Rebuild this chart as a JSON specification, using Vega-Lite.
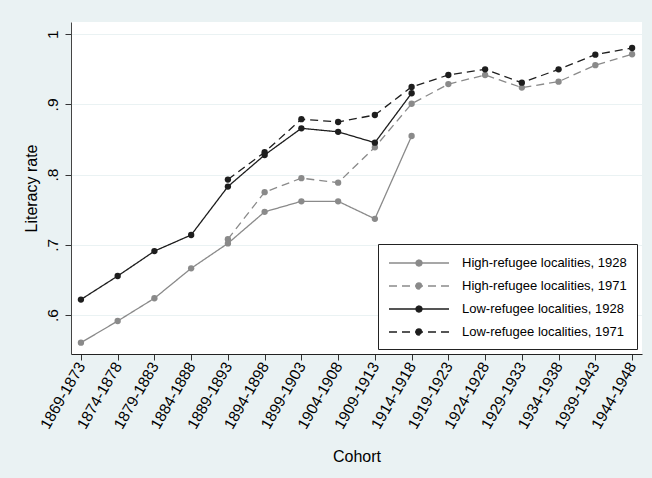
{
  "$schema": "https://vega.github.io/schema/vega-lite/v6.json",
  "width": 571,
  "height": 332,
  "autosize": {"type": "none"},
  "padding": {"left": 71, "top": 22, "right": 10, "bottom": 124},
  "background": "#eaf2f3",
  "config": {"view": {"fill": "white", "stroke": null}, "font": "Liberation Sans"},
  "data": {"values": [
    {"cohort": "1869-1873", "series": "High-refugee localities, 1928", "rate": 0.5605},
    {"cohort": "1874-1878", "series": "High-refugee localities, 1928", "rate": 0.5914},
    {"cohort": "1879-1883", "series": "High-refugee localities, 1928", "rate": 0.6238},
    {"cohort": "1884-1888", "series": "High-refugee localities, 1928", "rate": 0.6665},
    {"cohort": "1889-1893", "series": "High-refugee localities, 1928", "rate": 0.702},
    {"cohort": "1894-1898", "series": "High-refugee localities, 1928", "rate": 0.747},
    {"cohort": "1899-1903", "series": "High-refugee localities, 1928", "rate": 0.762},
    {"cohort": "1904-1908", "series": "High-refugee localities, 1928", "rate": 0.762},
    {"cohort": "1909-1913", "series": "High-refugee localities, 1928", "rate": 0.737},
    {"cohort": "1914-1918", "series": "High-refugee localities, 1928", "rate": 0.855},
    {"cohort": "1889-1893", "series": "High-refugee localities, 1971", "rate": 0.708},
    {"cohort": "1894-1898", "series": "High-refugee localities, 1971", "rate": 0.775},
    {"cohort": "1899-1903", "series": "High-refugee localities, 1971", "rate": 0.795},
    {"cohort": "1904-1908", "series": "High-refugee localities, 1971", "rate": 0.7885},
    {"cohort": "1909-1913", "series": "High-refugee localities, 1971", "rate": 0.839},
    {"cohort": "1914-1918", "series": "High-refugee localities, 1971", "rate": 0.901},
    {"cohort": "1919-1923", "series": "High-refugee localities, 1971", "rate": 0.929},
    {"cohort": "1924-1928", "series": "High-refugee localities, 1971", "rate": 0.942},
    {"cohort": "1929-1933", "series": "High-refugee localities, 1971", "rate": 0.924},
    {"cohort": "1934-1938", "series": "High-refugee localities, 1971", "rate": 0.9325},
    {"cohort": "1939-1943", "series": "High-refugee localities, 1971", "rate": 0.956},
    {"cohort": "1944-1948", "series": "High-refugee localities, 1971", "rate": 0.9715},
    {"cohort": "1869-1873", "series": "Low-refugee localities, 1928", "rate": 0.622},
    {"cohort": "1874-1878", "series": "Low-refugee localities, 1928", "rate": 0.6555},
    {"cohort": "1879-1883", "series": "Low-refugee localities, 1928", "rate": 0.691},
    {"cohort": "1884-1888", "series": "Low-refugee localities, 1928", "rate": 0.714},
    {"cohort": "1889-1893", "series": "Low-refugee localities, 1928", "rate": 0.783},
    {"cohort": "1894-1898", "series": "Low-refugee localities, 1928", "rate": 0.828},
    {"cohort": "1899-1903", "series": "Low-refugee localities, 1928", "rate": 0.866},
    {"cohort": "1904-1908", "series": "Low-refugee localities, 1928", "rate": 0.861},
    {"cohort": "1909-1913", "series": "Low-refugee localities, 1928", "rate": 0.8455},
    {"cohort": "1914-1918", "series": "Low-refugee localities, 1928", "rate": 0.916},
    {"cohort": "1889-1893", "series": "Low-refugee localities, 1971", "rate": 0.793},
    {"cohort": "1894-1898", "series": "Low-refugee localities, 1971", "rate": 0.832},
    {"cohort": "1899-1903", "series": "Low-refugee localities, 1971", "rate": 0.879},
    {"cohort": "1904-1908", "series": "Low-refugee localities, 1971", "rate": 0.875},
    {"cohort": "1909-1913", "series": "Low-refugee localities, 1971", "rate": 0.885},
    {"cohort": "1914-1918", "series": "Low-refugee localities, 1971", "rate": 0.925},
    {"cohort": "1919-1923", "series": "Low-refugee localities, 1971", "rate": 0.942},
    {"cohort": "1924-1928", "series": "Low-refugee localities, 1971", "rate": 0.95},
    {"cohort": "1929-1933", "series": "Low-refugee localities, 1971", "rate": 0.931},
    {"cohort": "1934-1938", "series": "Low-refugee localities, 1971", "rate": 0.95},
    {"cohort": "1939-1943", "series": "Low-refugee localities, 1971", "rate": 0.971},
    {"cohort": "1944-1948", "series": "Low-refugee localities, 1971", "rate": 0.9805}
  ]},
  "mark": {"type": "line", "strokeWidth": 1.3, "point": {"filled": true, "size": 40}},
  "encoding": {
    "x": {
      "field": "cohort", "type": "ordinal",
      "scale": {"type": "point", "padding": 0.27, "domain": ["1869-1873","1874-1878","1879-1883","1884-1888","1889-1893","1894-1898","1899-1903","1904-1908","1909-1913","1914-1918","1919-1923","1924-1928","1929-1933","1934-1938","1939-1943","1944-1948"]},
      "axis": {"title": "Cohort", "labelAngle": -60, "labelFontSize": 15.5, "labelColor": "black", "tickColor": "#333", "tickSize": 6, "domainColor": "#222", "titleFontSize": 16, "titleFontWeight": "normal", "titleColor": "black", "titlePadding": 17, "grid": false, "labelPadding": 3}
    },
    "y": {
      "field": "rate", "type": "quantitative",
      "scale": {"domain": [0.5444, 1.0175], "nice": false, "zero": false},
      "axis": {"title": "Literacy rate", "values": [0.6, 0.7, 0.8, 0.9, 1], "labelExpr": "datum.value == 1 ? '1' : substring(format(datum.value, '.1f'), 1)", "labelAngle": -90, "labelAlign": "center", "labelBaseline": "bottom", "labelFontSize": 15.5, "labelColor": "black", "labelPadding": 5, "grid": true, "gridColor": "#eaf2f3", "gridWidth": 1, "tickSize": 6, "tickColor": "#333", "domainColor": "#444", "titleFontSize": 16, "titleFontWeight": "normal", "titleColor": "black", "titlePadding": 6}
    },
    "color": {
      "field": "series", "type": "nominal",
      "scale": {"domain": ["High-refugee localities, 1928", "High-refugee localities, 1971", "Low-refugee localities, 1928", "Low-refugee localities, 1971"], "range": ["#8a8a8a", "#8a8a8a", "#1e1e1e", "#1e1e1e"]},
      "legend": {"orient": "bottom-right", "offset": 5, "title": null, "fillColor": "white", "strokeColor": "#222", "padding": 10, "symbolType": "M-3.75,0H3.75M-0.375,0A0.375,0.375,0,1,1,0.375,0A0.375,0.375,0,1,1,-0.375,0Z", "symbolSize": 256, "symbolOffset": 22, "symbolStrokeWidth": 1.3, "labelFontSize": 13, "labelColor": "black", "labelOffset": 34, "labelLimit": 400, "rowPadding": 7, "encode": {"symbols": {"update": {"fill": {"scale": "color", "field": "value"}}}}}
    },
    "strokeDash": {
      "field": "series", "type": "nominal",
      "scale": {"domain": ["High-refugee localities, 1928", "High-refugee localities, 1971", "Low-refugee localities, 1928", "Low-refugee localities, 1971"], "range": [[1, 0], [8, 5], [1, 0], [8, 5]]},
      "legend": {"orient": "bottom-right", "offset": 5, "title": null, "fillColor": "white", "strokeColor": "#222", "padding": 10, "symbolType": "M-3.75,0H3.75M-0.375,0A0.375,0.375,0,1,1,0.375,0A0.375,0.375,0,1,1,-0.375,0Z", "symbolSize": 256, "symbolOffset": 22, "symbolStrokeWidth": 1.3, "labelFontSize": 13, "labelColor": "black", "labelOffset": 34, "labelLimit": 400, "rowPadding": 7, "encode": {"symbols": {"update": {"fill": {"scale": "color", "field": "value"}}}}}
    }
  }
}
